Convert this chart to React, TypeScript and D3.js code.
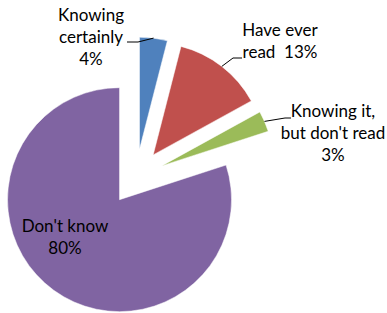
import React from "react";
import * as d3 from "d3";

const categories = ["Knowing certainly", "Have ever read", "Knowing it, but don't read", "Don't know"];
const values = [4, 13, 3, 80];
const labelLines = [
  ["Knowing", "certainly", "4%"],
  ["Have ever", "read  13%"],
  ["Knowing it,", "but don't read", "3%"],
  ["Don't know", "80%"],
];
const colors = ["#4F81BD", "#C0504D", "#9BBB59", "#8064A2"];

// layout
const W = 387, H = 313;
const CX = 136, CY = 177, R = 112, EXPLODE = 28;
const labelPos = [
  { x: 91, y: 21 },
  { x: 280, y: 36 },
  { x: 333, y: 117 },
  { x: 65, y: 232 },
];
// leader elbow points (null = no leader)
const leaders: ([number, number][] | null)[] = [
  [[138, 42], [127, 42]],
  [[233, 58], [242, 58]],
  [[285, 118], [291, 118]],
  null,
];

export default function App() {
  const pie = d3.pie<number>().sort(null).value((d) => d).startAngle(0).endAngle(2 * Math.PI);
  const arcs = pie(values);
  const arc = d3.arc<d3.PieArcDatum<number>>().innerRadius(0).outerRadius(R);
  return (
    <svg width={W} height={H} style={{ position: "absolute", left: 0, top: 0 }}>
      <rect width={W} height={H} fill="#fff" />
      {arcs.map((a, i) => {
        const mid = (a.startAngle + a.endAngle) / 2;
        const ox = CX + EXPLODE * Math.sin(mid);
        const oy = CY - EXPLODE * Math.cos(mid);
        return (
          <g key={categories[i]}>
            <path d={arc(a) || ""} transform={`translate(${ox},${oy})`} fill={colors[i]} stroke="#fff" strokeWidth={0.5} />
          </g>
        );
      })}
      {arcs.map((a, i) => {
        const lp = leaders[i];
        if (!lp) return null;
        const mid = (a.startAngle + a.endAngle) / 2;
        const ox = CX + EXPLODE * Math.sin(mid);
        const oy = CY - EXPLODE * Math.cos(mid);
        const sx = ox + R * Math.sin(mid);
        const sy = oy - R * Math.cos(mid);
        const pts: [number, number][] = [[sx, sy], ...lp];
        return <path key={"l" + i} d={d3.line()(pts) || ""} fill="none" stroke="#000" strokeWidth={1} />;
      })}
      {labelLines.map((lines, i) => (
        <text key={"t" + i} x={labelPos[i].x} y={labelPos[i].y} textAnchor="middle"
          fontFamily="Lato, 'Noto Sans', sans-serif" fontSize={17} fill="#000" style={{ whiteSpace: "pre" }}>
          {lines.map((ln, j) => (
            <tspan key={j} x={labelPos[i].x} dy={j === 0 ? 0 : 22}>{ln}</tspan>
          ))}
        </text>
      ))}
    </svg>
  );
}
